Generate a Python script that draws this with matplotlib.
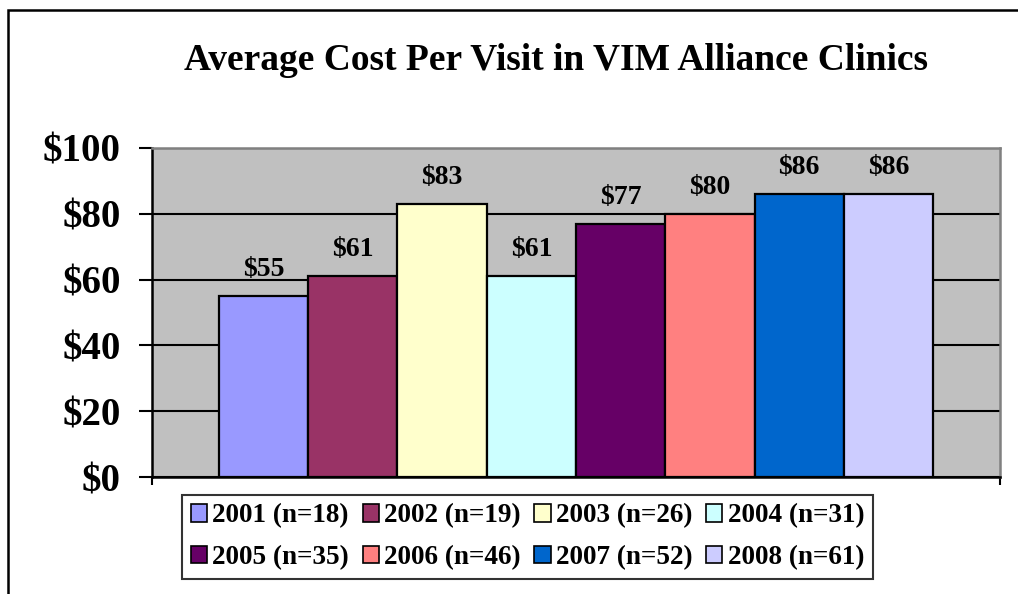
"""Average cost per visit, VIM Alliance clinics"""
import matplotlib
matplotlib.use("Agg")
import matplotlib.pyplot as plt
from matplotlib.patches import Rectangle

# data
years = ["2001", "2002", "2003", "2004", "2005", "2006", "2007", "2008"]
n_clinics = [18, 19, 26, 31, 35, 46, 52, 61]
cost = [55, 61, 83, 61, 77, 80, 86, 86]
colors = ["#9999FF", "#993366", "#FFFFCC", "#CCFFFF",
          "#660066", "#FF8080", "#0066CC", "#CCCCFF"]
y_ticks = [0, 20, 40, 60, 80, 100]

plt.rcParams["font.family"] = ["Liberation Serif", "DejaVu Serif"]
plt.rcParams["font.weight"] = "bold"

fig = plt.figure(figsize=(10.18, 5.94), dpi=100)

# outer chart frame (runs past right and bottom edges)
fig.patches.append(Rectangle((8 / 1018, -0.1), 1.2, 1 - 10 / 594 + 0.1,
                             transform=fig.transFigure, fill=False,
                             edgecolor="black", linewidth=1.8))

ax = fig.add_axes([152 / 1018, 117 / 594, 848 / 1018, 329 / 594])
ax.set_facecolor("#C0C0C0")

handles = []
for i, (yr, n, c, col) in enumerate(zip(years, n_clinics, cost, colors)):
    b = ax.bar(i, c, width=1.0, color=col, edgecolor="black", linewidth=1.6,
               zorder=3)
    handles.append((b[0], f"{yr} (n={n})"))
    ax.annotate(f"${c}", (i, c), xytext=(0, 10), textcoords="offset points",
                ha="center", va="bottom", fontsize=20, fontweight="bold")

ax.set_xlim(-1.25, 8.25)
ax.set_ylim(0, 100)
ax.set_yticks(y_ticks)
ax.set_yticklabels([f"${v}" for v in y_ticks], fontsize=28, fontweight="bold")
ax.set_xticks([-1.25, 8.25])
ax.set_xticklabels([])
ax.tick_params(axis="y", direction="out", length=9.5, width=1.5, pad=13)
ax.tick_params(axis="x", direction="out", length=6, width=1.5)
ax.yaxis.grid(True, color="black", linewidth=1.5, zorder=1)
ax.set_axisbelow(True)

for side in ("left", "bottom"):
    ax.spines[side].set_color("black")
    ax.spines[side].set_linewidth(1.8)
for side in ("top", "right"):
    ax.spines[side].set_color("#808080")
    ax.spines[side].set_linewidth(1.8)

fig.text(556 / 1018, 1 - 60 / 594, "Average Cost Per Visit in VIM Alliance Clinics",
         ha="center", va="center", fontsize=27, fontweight="bold")

# legend fills column-wise, so reorder to read row-wise like the original
order = [0, 4, 1, 5, 2, 6, 3, 7]
leg = fig.legend([handles[k][0] for k in order], [handles[k][1] for k in order],
                 loc="center", bbox_to_anchor=(527.5 / 1018, 57 / 594), ncol=4,
                 prop={"weight": "bold", "size": 19.5},
                 frameon=True, fancybox=False, edgecolor="black",
                 handlelength=0.6, handleheight=0.6, handletextpad=0.2,
                 columnspacing=0.5, labelspacing=0.62, borderpad=0.3,
                 borderaxespad=0)
leg.get_frame().set_linewidth(1.5)
for h in leg.legend_handles:
    h.set_linewidth(1.2)

fig.savefig("out.png", dpi=100)
